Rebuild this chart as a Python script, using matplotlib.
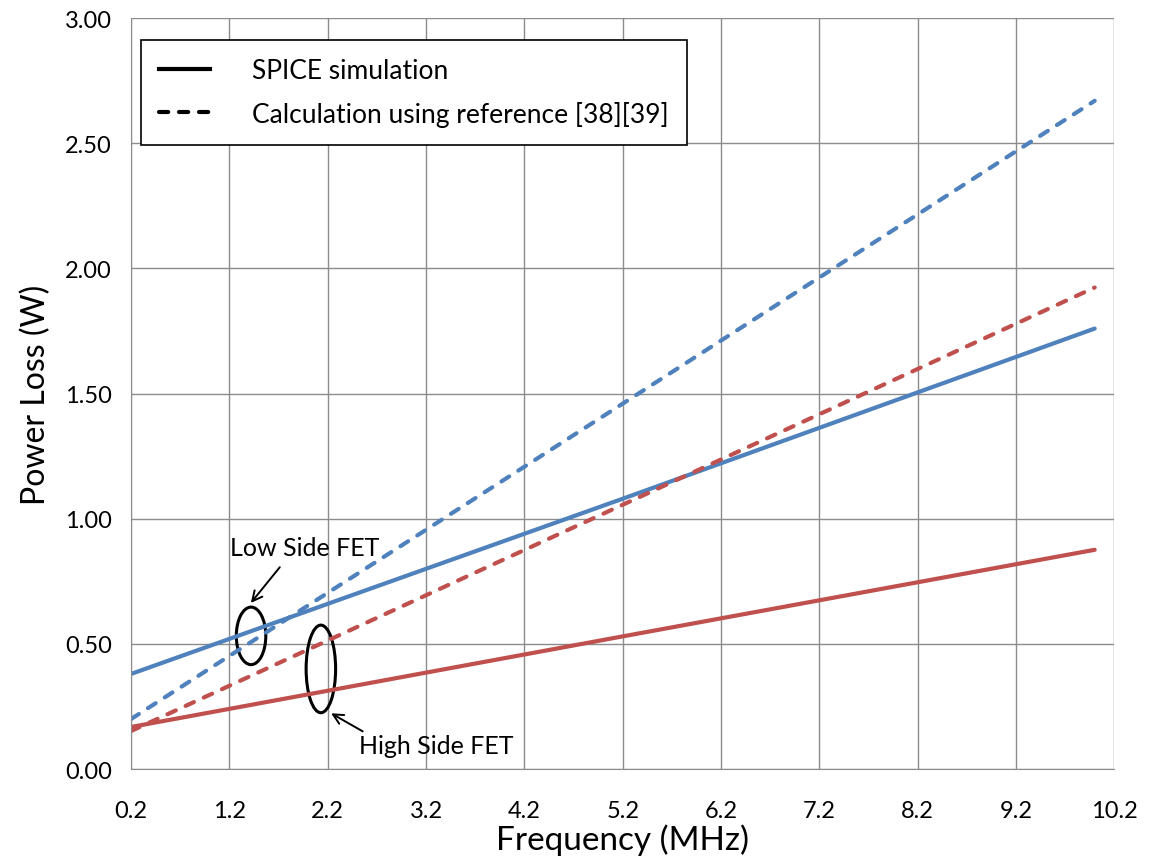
import numpy as np
import matplotlib.pyplot as plt
from matplotlib.patches import Ellipse

plt.rcParams['font.family'] = ['Lato', 'DejaVu Sans']

freq = [0.2, 5.2, 10.0]
low_spice = [0.38, 1.08, 1.76]
low_calc = [0.20, 1.46, 2.67]
high_spice = [0.168, 0.53, 0.876]
high_calc = [0.152, 1.056, 1.924]

x_ticks = np.arange(0.2, 10.3, 1.0)
y_ticks = np.arange(0, 3.01, 0.5)

blue = "#4F81BD"
red = "#C0504D"
dash = (0, (2.2, 2.6))

fig = plt.figure(figsize=(11.5, 8.62), dpi=100)
ax = fig.add_axes([0.1140, 0.1067, 0.855, 0.871])

ax.plot(freq, low_spice, color=blue, lw=3, solid_capstyle="round")
ax.plot(freq, low_calc, color=blue, lw=3, ls=dash, dash_capstyle="round")
ax.plot(freq, high_spice, color=red, lw=3, solid_capstyle="round")
ax.plot(freq, high_calc, color=red, lw=3, ls=dash, dash_capstyle="round")

ax.set_xlim(0.2, 10.2)
ax.set_ylim(0, 3.0)
ax.set_xticks(x_ticks)
ax.set_xticklabels([f"{v:.1f}" for v in x_ticks])
ax.set_yticks(y_ticks)
ax.set_yticklabels([f"{v:.2f}" for v in y_ticks])
ax.tick_params(labelsize=17, length=0, pad=14)
ax.tick_params(axis="x", pad=22)
ax.grid(True, color="#8c8c8c", lw=1.0)
ax.set_axisbelow(True)
for s in ["top", "right"]:
    ax.spines[s].set_visible(False)
for s in ["left", "bottom"]:
    ax.spines[s].set_color("#8c8c8c")

ax.set_xlabel("Frequency (MHz)", fontsize=24, labelpad=2)
ax.set_ylabel("Power Loss (W)", fontsize=23, labelpad=10)

# legend
ax.plot([], [], color="black", lw=3, label="SPICE simulation")
ax.plot([], [], color="black", lw=3, ls=dash, dash_capstyle="round",
        label="Calculation using reference [38][39]")
leg = ax.legend(loc="upper left", bbox_to_anchor=(0.010, 0.971), fontsize=19,
                fancybox=False, edgecolor="black", framealpha=1, handlelength=1.9,
                handletextpad=1.6, borderpad=0.7, labelspacing=0.65, borderaxespad=0)
leg.get_frame().set_linewidth(1.2)

# annotations
ax.add_patch(Ellipse((1.42, 0.532), 0.30, 0.23, fill=False, lw=2.2, ec="black"))
ax.add_patch(Ellipse((2.13, 0.40), 0.30, 0.35, fill=False, lw=2.2, ec="black"))
ax.text(1.97, 0.885, "Low Side FET", fontsize=18, ha="center", va="center")
ax.text(3.30, 0.095, "High Side FET", fontsize=18, ha="center", va="center")
ax.annotate("", xy=(1.40, 0.655), xytext=(1.73, 0.815),
            arrowprops=dict(arrowstyle="->", lw=1.4, color="black", mutation_scale=18))
ax.annotate("", xy=(2.21, 0.228), xytext=(2.58, 0.145),
            arrowprops=dict(arrowstyle="->", lw=1.4, color="black", mutation_scale=18))

fig.savefig("out.png", dpi=100)
